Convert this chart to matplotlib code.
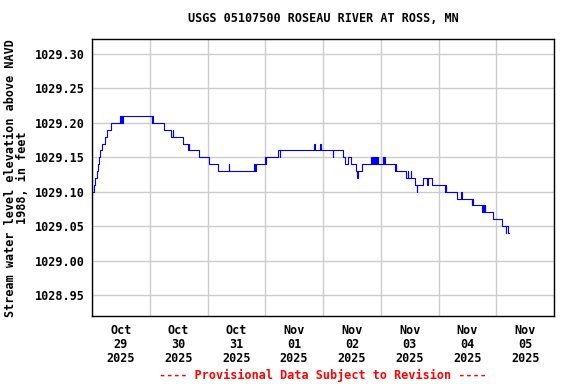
import matplotlib
matplotlib.use("Agg")
import matplotlib.pyplot as plt
import matplotlib.dates as mdates
import pandas as pd

# ---- data ----
times = [
    "2025-10-29 00:15", "2025-10-29 00:45", "2025-10-29 01:15", "2025-10-29 02:00",
    "2025-10-29 02:30", "2025-10-29 03:00", "2025-10-29 03:30", "2025-10-29 04:15",
    "2025-10-29 05:15", "2025-10-29 06:15", "2025-10-29 08:00", "2025-10-29 11:45",
    "2025-10-29 12:00", "2025-10-29 12:15", "2025-10-29 12:30", "2025-10-29 13:00",
    "2025-10-30 00:45", "2025-10-30 01:00", "2025-10-30 01:15", "2025-10-30 06:00",
    "2025-10-30 09:00", "2025-10-30 09:30", "2025-10-30 09:45", "2025-10-30 13:45",
    "2025-10-30 16:00", "2025-10-30 16:15", "2025-10-30 16:30", "2025-10-30 20:30",
    "2025-10-31 00:30", "2025-10-31 04:30", "2025-10-31 08:45", "2025-10-31 09:00",
    "2025-10-31 19:30", "2025-10-31 19:45", "2025-10-31 20:00", "2025-11-01 00:00",
    "2025-11-01 00:15", "2025-11-01 00:30", "2025-11-01 05:30", "2025-11-01 06:00",
    "2025-11-01 06:15", "2025-11-01 20:15", "2025-11-01 20:45", "2025-11-01 22:45",
    "2025-11-01 23:15", "2025-11-02 04:00", "2025-11-02 04:15", "2025-11-02 08:30",
    "2025-11-02 09:15", "2025-11-02 10:30", "2025-11-02 11:30", "2025-11-02 13:45",
    "2025-11-02 14:15", "2025-11-02 14:30", "2025-11-02 16:00", "2025-11-02 19:45",
    "2025-11-02 20:15", "2025-11-02 20:45", "2025-11-02 21:00", "2025-11-02 21:15",
    "2025-11-02 21:45", "2025-11-02 22:00", "2025-11-02 22:15", "2025-11-02 22:30",
    "2025-11-02 22:45", "2025-11-03 00:45", "2025-11-03 01:00", "2025-11-03 01:30",
    "2025-11-03 01:45", "2025-11-03 06:00", "2025-11-03 06:15", "2025-11-03 06:30",
    "2025-11-03 10:30", "2025-11-03 11:15", "2025-11-03 11:30", "2025-11-03 12:30",
    "2025-11-03 12:45", "2025-11-03 14:15", "2025-11-03 15:00", "2025-11-03 15:15",
    "2025-11-03 17:30", "2025-11-03 19:15", "2025-11-03 19:30", "2025-11-03 21:15",
    "2025-11-04 02:45", "2025-11-04 03:00", "2025-11-04 03:15", "2025-11-04 07:45",
    "2025-11-04 09:15", "2025-11-04 09:45", "2025-11-04 13:45", "2025-11-04 14:00",
    "2025-11-04 14:30", "2025-11-04 18:15", "2025-11-04 18:30", "2025-11-04 19:00",
    "2025-11-04 19:15", "2025-11-04 19:30", "2025-11-04 22:30", "2025-11-05 02:15",
    "2025-11-05 04:00", "2025-11-05 04:15", "2025-11-05 04:45", "2025-11-05 05:30",
]
values = [
    1029.10, 1029.11, 1029.12, 1029.13,
    1029.14, 1029.15, 1029.16, 1029.17,
    1029.18, 1029.19, 1029.20, 1029.21,
    1029.20, 1029.21, 1029.20, 1029.21,
    1029.20, 1029.21, 1029.20, 1029.19,
    1029.18, 1029.19, 1029.18, 1029.17,
    1029.16, 1029.17, 1029.16, 1029.15,
    1029.14, 1029.13, 1029.14, 1029.13,
    1029.14, 1029.13, 1029.14, 1029.15,
    1029.14, 1029.15, 1029.16, 1029.15,
    1029.16, 1029.17, 1029.16, 1029.17,
    1029.16, 1029.15, 1029.16, 1029.15,
    1029.14, 1029.15, 1029.14, 1029.13,
    1029.12, 1029.13, 1029.14, 1029.15,
    1029.14, 1029.15, 1029.14, 1029.15,
    1029.14, 1029.15, 1029.14, 1029.15,
    1029.14, 1029.15, 1029.14, 1029.15,
    1029.14, 1029.13, 1029.14, 1029.13,
    1029.12, 1029.13, 1029.12, 1029.13,
    1029.12, 1029.11, 1029.10, 1029.11,
    1029.12, 1029.11, 1029.12, 1029.11,
    1029.10, 1029.11, 1029.10, 1029.09,
    1029.10, 1029.09, 1029.08, 1029.09,
    1029.08, 1029.07, 1029.08, 1029.07,
    1029.08, 1029.07, 1029.06, 1029.05,
    1029.04, 1029.05, 1029.04, 1029.04,
]

title = "USGS 05107500 ROSEAU RIVER AT ROSS, MN"
ylabel = "Stream water level elevation above NAVD\n1988, in feet"
footer = "---- Provisional Data Subject to Revision ----"
x_start, x_end = "2025-10-29 00:00", "2025-11-06 00:00"
y_min, y_max = 1028.9195, 1029.3218
y_ticks = [1028.95, 1029.00, 1029.05, 1029.10, 1029.15, 1029.20, 1029.25, 1029.30]

plt.rcParams["font.family"] = ["DejaVu Sans Mono"]
plt.rcParams["font.weight"] = "bold"

W, H = 576, 384
fig = plt.figure(figsize=(W / 100, H / 100), dpi=100)
ax = fig.add_axes([92 / W, 1 - 316 / H, 462 / W, 277 / H])

t = pd.to_datetime(times)
ax.plot(t, values, drawstyle="steps-post", color="#0000ff", lw=0.8)

ax.set_xlim(pd.Timestamp(x_start), pd.Timestamp(x_end))
ax.set_ylim(y_min, y_max)
ax.set_yticks(y_ticks)
ax.yaxis.set_major_formatter(matplotlib.ticker.FormatStrFormatter("%.2f"))

ax.xaxis.set_major_locator(mdates.HourLocator(byhour=12))
ax.xaxis.set_major_formatter(mdates.DateFormatter("%b\n%d\n%Y"))
ax.xaxis.set_minor_locator(mdates.DayLocator())

ax.grid(which="minor", axis="x", color="#cccccc", lw=1)
ax.grid(which="major", axis="y", color="#cccccc", lw=1)
ax.set_axisbelow(True)
ax.tick_params(axis="both", which="both", length=0)
ax.tick_params(axis="x", pad=6, labelsize=8.5)
ax.tick_params(axis="y", pad=5, labelsize=8.5)
for lab in ax.get_xticklabels():
    lab.set_linespacing(1.08)
for sp in ax.spines.values():
    sp.set_color("black")
    sp.set_linewidth(1)

fig.text(323 / W, 1 - 19 / H, title, ha="center", va="center", fontsize=8.5)
fig.text(17 / W, 1 - 178 / H, ylabel, ha="center", va="center", rotation=90,
         fontsize=8.5, multialignment="center", linespacing=0.9)
fig.text(323 / W, 1 - 375 / H, footer, ha="center", va="center", fontsize=8.5,
         color="#ff0000")

fig.savefig("out.png", dpi=100)
